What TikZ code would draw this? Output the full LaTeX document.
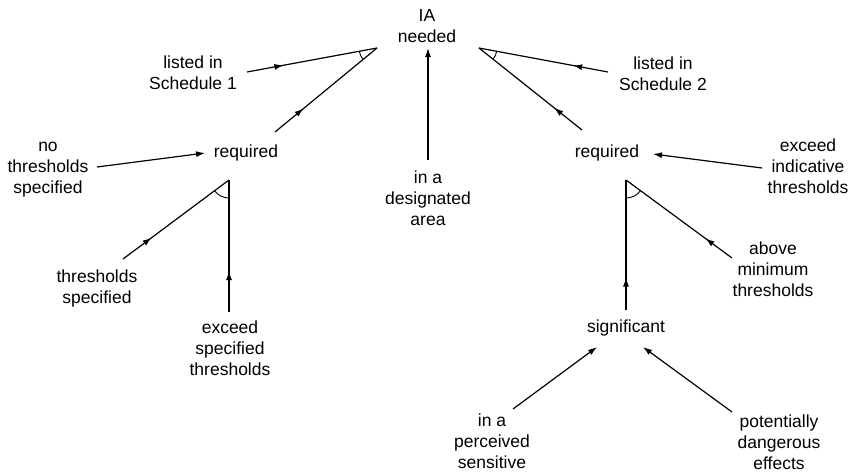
\documentclass[tikz,border=0pt]{standalone}
\usepackage{fontspec}
\setmainfont{Liberation Sans}
\usetikzlibrary{arrows.meta,decorations.markings,angles}
\begin{document}
\begin{tikzpicture}[x=1pt,y=-1pt,
  txt/.style={align=center,inner sep=0pt,font=\fontsize{17.5}{21}\selectfont},
  link/.style={line width=1.2pt},
  tipped/.style={link,-{Latex[length=9pt,width=6pt]}},
  midarrow/.style={link,postaction={decorate},
    decoration={markings,mark=at position #1 with {\arrow{Latex[length=9pt,width=6pt]}}}},
  andarc/.style={draw,line width=0.9pt,angle radius=18pt}]
\useasboundingbox (0,0) rectangle (854,474);

% statements
\node[txt] (ia)       at (427,26)  {IA\\needed};
\node[txt] (sch1)     at (193,73)  {listed in\\Schedule 1};
\node[txt] (reqL)     at (246,153) {required};
\node[txt] (nothr)    at (48,170)  {no\\thresholds\\specified};
\node[txt] (thrspec)  at (97,288)  {thresholds\\specified};
\node[txt] (excspec)  at (230,348) {exceed\\specified\\thresholds};
\node[txt] (desig)    at (428,198) {in a\\designated\\area};
\node[txt] (sch2)     at (663,74)  {listed in\\Schedule 2};
\node[txt] (reqR)     at (607,153) {required};
\node[txt] (excind)   at (808,166) {exceed\\indicative\\thresholds};
\node[txt] (abovemin) at (773,269) {above\\minimum\\thresholds};
\node[txt] (signif)   at (626,328) {significant};
\node[txt] (percv)    at (492,441) {in a\\perceived\\sensitive};
\node[txt] (danger)   at (779,442) {potentially\\dangerous\\effects};

% conjunction apexes
\coordinate (A1) at (377,48);
\coordinate (A2) at (479,48);
\coordinate (A3) at (229,180);
\coordinate (A4) at (626,180);

% connector end points beside the statements
\coordinate (sch1-out)     at (247,72);
\coordinate (reqL-out)     at (275,132);
\coordinate (reqL-in)      at (205,153);
\coordinate (nothr-out)    at (97,167);
\coordinate (thrspec-out)  at (123,259);
\coordinate (excspec-out)  at (229,312);
\coordinate (desig-out)    at (428,160);
\coordinate (ia-in)        at (428,48);
\coordinate (sch2-out)     at (608,72);
\coordinate (reqR-out)     at (582,130);
\coordinate (reqR-in)      at (653,154);
\coordinate (excind-out)   at (762,168);
\coordinate (abovemin-out) at (732,258);
\coordinate (signif-out)   at (626,310);
\coordinate (signif-inL)   at (597,347);
\coordinate (signif-inR)   at (643,347);
\coordinate (percv-out)    at (513,409);
\coordinate (danger-out)   at (732,412);

% connectors
\draw[midarrow=0.28] (sch1-out) -- (A1);
\draw[midarrow=0.28] (reqL-out) -- (A1);
\draw[tipped] (desig-out) -- (ia-in);
\draw[midarrow=0.27] (sch2-out) -- (A2);
\draw[midarrow=0.27] (reqR-out) -- (A2);
\draw[tipped] (nothr-out) -- (reqL-in);
\draw[midarrow=0.27] (thrspec-out) -- (A3);
\draw[midarrow=0.31] (excspec-out) -- (A3);
\draw[tipped] (excind-out) -- (reqR-in);
\draw[midarrow=0.25] (abovemin-out) -- (A4);
\draw[midarrow=0.25] (signif-out) -- (A4);
\draw[tipped] (percv-out) -- (signif-inL);
\draw[tipped] (danger-out) -- (signif-inR);

% conjunction arcs
\pic[andarc] {angle = sch1-out--A1--reqL-out};
\pic[andarc] {angle = reqR-out--A2--sch2-out};
\pic[andarc] {angle = thrspec-out--A3--excspec-out};
\pic[andarc] {angle = signif-out--A4--abovemin-out};
\end{tikzpicture}
\end{document}
